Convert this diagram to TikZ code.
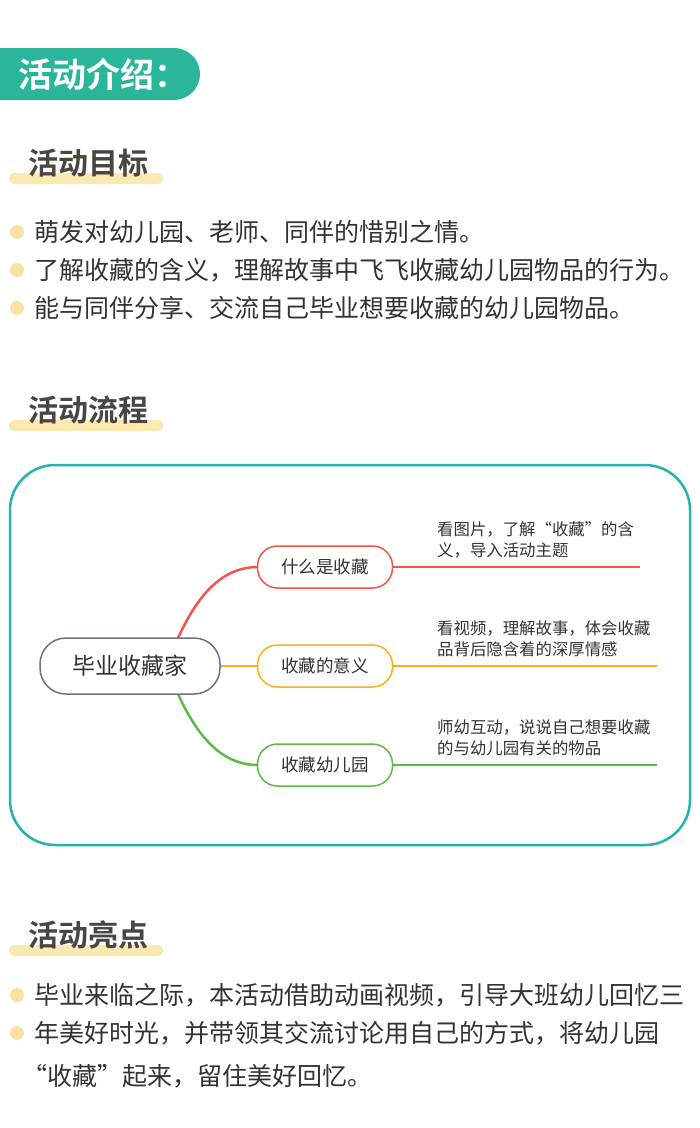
\documentclass[tikz,border=0pt]{standalone}
\usepackage{fontspec}
\setmainfont{Noto Sans CJK SC}
\newfontfamily\cjkbold{Noto Sans CJK SC Bold}
\definecolor{teal}{HTML}{2BB69B}
\definecolor{framecol}{HTML}{22B5AE}
\definecolor{barcol}{HTML}{FCE9B0}
\definecolor{dotcol}{HTML}{FCE0A0}
\definecolor{inkcol}{HTML}{333333}
\definecolor{headcol}{HTML}{4A4540}
\definecolor{redb}{HTML}{F4554A}
\definecolor{orangeb}{HTML}{FBB016}
\definecolor{greenb}{HTML}{5BBB46}
\definecolor{grayb}{HTML}{6B7280}
\begin{document}
\begin{tikzpicture}[x=1pt,y=-1pt,
  heading/.style={anchor=west,text=headcol,font=\cjkbold\fontsize{30}{30}\selectfont,inner sep=0pt},
  bullet/.style={anchor=west,text=inkcol,font=\fontsize{25}{25}\selectfont,inner sep=0pt},
  subnode/.style={draw=#1,line width=1.5pt,rounded corners=20pt,minimum width=135pt,minimum height=42pt,font=\fontsize{17.5}{17.5}\selectfont,text=inkcol},
  note/.style={anchor=west,text=inkcol,font=\fontsize{16.4}{21}\selectfont,align=left,inner sep=0pt}]
  \useasboundingbox (0,0) rectangle (700,1128);
  \fill[white] (0,0) rectangle (700,1128);
  % header tab
  \fill[teal] (0,48) rectangle (174,100);
  \fill[teal] (174,74) circle (26);
  \node[anchor=west,text=white,font=\cjkbold\fontsize{34}{34}\selectfont,inner sep=0pt] (title) at (18,74) {活动介绍：};
  % section headings
  \foreach \y/\t/\n in {163/活动目标/goal,410/活动流程/flow,935/活动亮点/high}{
    \fill[barcol,rounded corners=5pt] (9,\y+10) rectangle (163,\y+21);
    \node[heading] (\n) at (28,\y) {\t};
  }
  % bullets
  \foreach \y in {232,270,308,995,1033}
    \fill[dotcol] (17,\y) circle (7);
  \node[bullet] (g1) at (34,232) {萌发对幼儿园、老师、同伴的惜别之情。};
  \node[bullet] (g2) at (34,270) {了解收藏的含义，理解故事中飞飞收藏幼儿园物品的行为。};
  \node[bullet] (g3) at (34,308) {能与同伴分享、交流自己毕业想要收藏的幼儿园物品。};
  \node[bullet] (h1) at (34,995) {毕业来临之际，本活动借助动画视频，引导大班幼儿回忆三};
  \node[bullet] (h2) at (34,1033) {年美好时光，并带领其交流讨论用自己的方式，将幼儿园};
  \node[bullet] (h3) at (22,1076) {“收藏”起来，留住美好回忆。};
  % mind map frame
  \draw[framecol,line width=2.5pt,rounded corners=45pt] (10,465) rectangle (690,845);
  % branches
  \draw[redb,line width=2.5pt] (178,638) .. controls (200,590) and (225,567) .. (258,567);
  \draw[orangeb,line width=2pt] (220,666) -- (258,666);
  \draw[greenb,line width=2.5pt] (178,694) .. controls (200,742) and (225,765) .. (258,765);
  \node[draw=grayb,line width=1.5pt,rounded corners=26pt,minimum width=180pt,minimum height=56pt,fill=white,font=\fontsize{23}{23}\selectfont,text=inkcol] (root) at (130,666) {毕业收藏家};
  \node[subnode=redb] (what) at (325,567) {什么是收藏};
  \node[subnode=orangeb] (mean) at (325,666) {收藏的意义};
  \node[subnode=greenb] (kinder) at (325,765) {收藏幼儿园};
  \coordinate (e1) at (640,567);
  \coordinate (e2) at (657,666);
  \coordinate (e3) at (657,765);
  \draw[redb,line width=1.2pt] (what) -- (e1);
  \draw[orangeb,line width=1.2pt] (mean) -- (e2);
  \draw[greenb,line width=1.2pt] (kinder) -- (e3);
  \node[note] (n1) at (437,540) {看图片，了解“收藏”的含\\义，导入活动主题};
  \node[note] (n2) at (437,639) {看视频，理解故事，体会收藏\\品背后隐含着的深厚情感};
  \node[note] (n3) at (437,738) {师幼互动，说说自己想要收藏\\的与幼儿园有关的物品};
\end{tikzpicture}
\end{document}
